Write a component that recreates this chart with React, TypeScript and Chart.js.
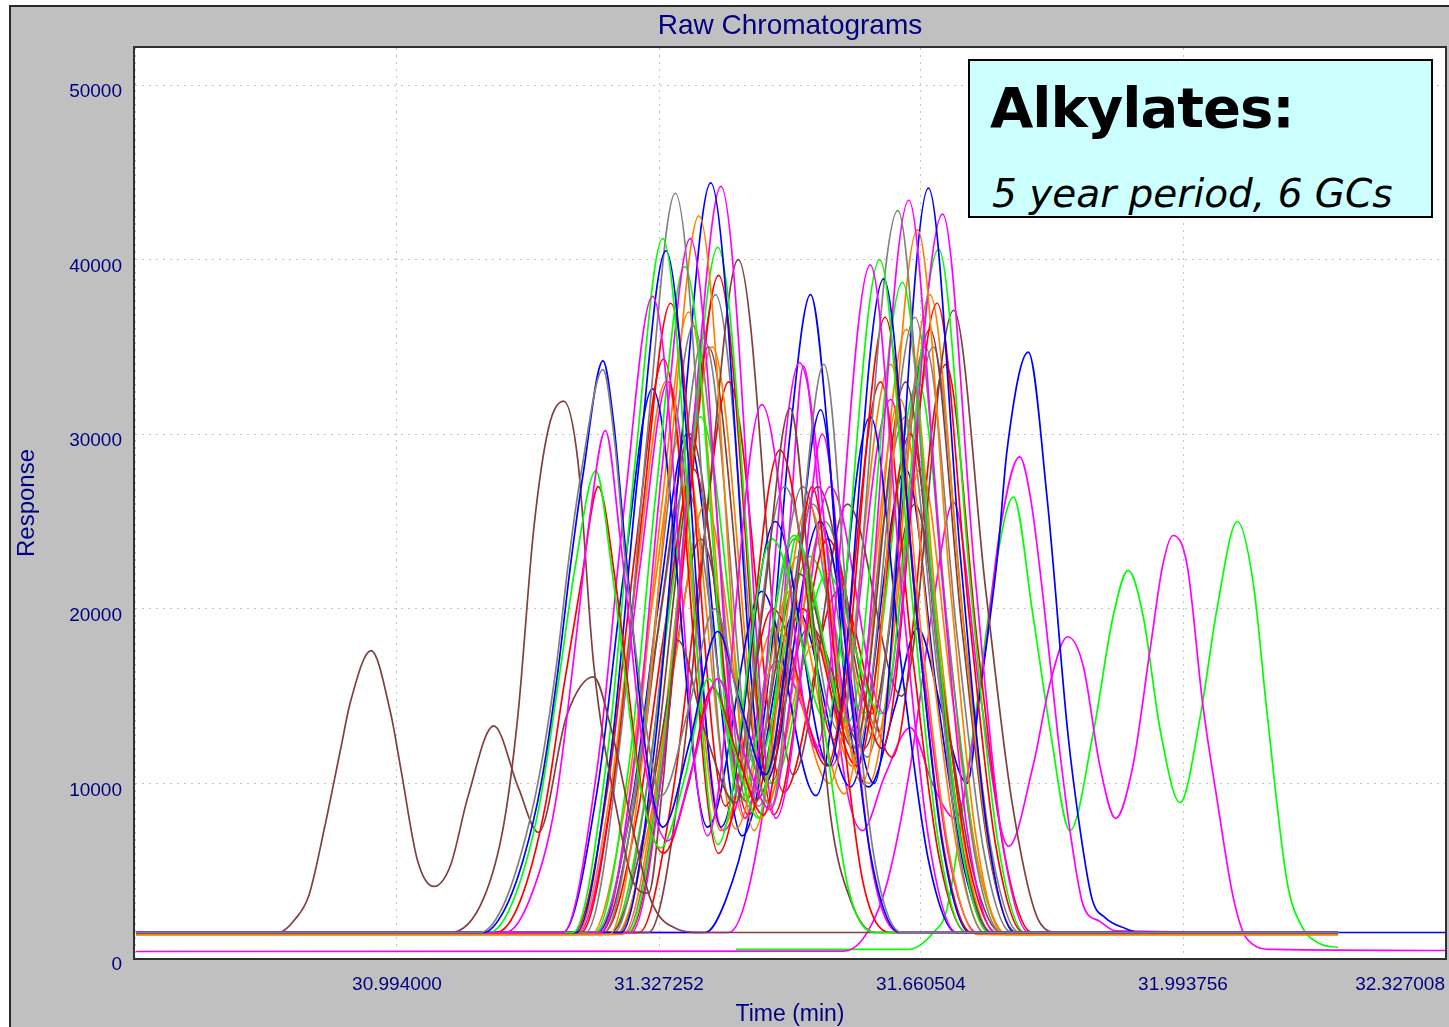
import React, { useEffect, useRef } from "react";
import { Chart, registerables } from "chart.js";

Chart.register(...registerables);

type P = [number, number];

// ---- axes ----
const X_MIN = 30.660748;
const X_MAX = 32.327008;
const Y_MIN = 0;
const Y_MAX = 52120;
const xTickValues = [30.660748, 30.994, 31.327252, 31.660504, 31.993756, 32.327008];
const xTickLabels = ["", "30.994000", "31.327252", "31.660504", "31.993756", "32.327008"];
const yTickValues = [0, 10000, 20000, 30000, 40000, 50000];
const yTickLabels = ["0", "10000", "20000", "30000", "40000", "50000"];

const TITLE = "Raw Chromatograms";
const X_TITLE = "Time (min)";
const Y_TITLE = "Response";
const NOTE_1 = "Alkylates:";
const NOTE_2 = "5 year period, 6 GCs";

// ---- colours ----
const BLUE = "#0000ff";
const MAGENTA = "#ff00ff";
const GREEN = "#00ff00";
const RED = "#ff0000";
const ORANGE = "#ff8000";
const GRAY = "#808080";
const BROWN = "#804040";
const NAVY = "#000080";

// ---- chromatograms: [time (min), response] ----
const brownA: P[] = [[30.662,1460],[30.844,1460],[30.864,2200],[30.882,3600],[30.902,7500],[30.922,11900],[30.935,14700],[30.961,17600],[30.986,14000],[30.999,10800],[31.020,5600],[31.041,4100],[31.062,5300],[31.084,9200],[31.117,13300],[31.148,9800],[31.174,7200],[31.210,13900],[31.244,16100],[31.266,13200],[31.295,7200],[31.317,3300],[31.351,1650],[31.380,1460],[32.191,1460]];
const brownB: P[] = [[30.662,1460],[31.062,1460],[31.104,3400],[31.130,7700],[31.148,14000],[31.168,24600],[31.187,30400],[31.206,31900],[31.224,28500],[31.244,16900],[31.275,8100],[31.295,4300],[31.314,3700],[31.332,9900],[31.351,18200],[31.386,12900],[31.425,8900],[31.459,19900],[31.494,31500],[31.522,19900],[31.545,8300],[31.571,3300],[31.602,1460],[32.191,1460]];
const blueE1: P[] = [[30.662,1460],[31.104,1460],[31.130,2700],[31.155,5700],[31.177,9900],[31.198,16200],[31.215,22600],[31.231,27800],[31.256,34200],[31.270,30500],[31.282,24700],[31.310,12000],[31.332,7500],[31.367,12500],[31.402,18700],[31.431,14500],[31.463,10500],[31.497,20000],[31.533,31400],[31.564,18000],[31.596,6000],[31.634,1460],[32.191,1460]];
const grayE2: P[] = [[30.662,1460],[31.100,1460],[31.127,2800],[31.152,6000],[31.174,10200],[31.196,16500],[31.213,23000],[31.229,28000],[31.256,33700],[31.271,29500],[31.284,23000],[31.310,13500],[31.330,9300],[31.366,14500],[31.398,20000],[31.432,14000],[31.470,8700],[31.503,22000],[31.537,34000],[31.569,19000],[31.600,6000],[31.636,1460],[32.191,1460]];
const magentaE3: P[] = [[30.662,1460],[31.132,1460],[31.164,3500],[31.196,9000],[31.221,18000],[31.240,25500],[31.259,30200],[31.278,24000],[31.310,11000],[31.338,6700],[31.370,11000],[31.402,16000],[31.433,12000],[31.469,8500],[31.503,18000],[31.535,30000],[31.568,17000],[31.599,5000],[31.634,1460],[32.191,1460]];
const greenE4: P[] = [[30.662,1460],[31.111,1460],[31.141,3200],[31.174,8500],[31.200,16000],[31.221,22500],[31.247,27900],[31.268,22000],[31.301,10500],[31.329,6300],[31.361,10500],[31.390,16000],[31.422,12000],[31.454,8000],[31.475,15000],[31.503,24200],[31.535,14000],[31.568,4000],[31.603,1460],[32.191,1460]];
const redE5: P[] = [[30.662,1460],[31.120,1460],[31.151,3300],[31.183,8800],[31.206,15500],[31.228,21500],[31.250,27000],[31.272,21500],[31.304,10000],[31.333,6000],[31.365,10000],[31.395,15500],[31.428,11500],[31.460,8200],[31.492,17000],[31.522,27000],[31.556,15000],[31.586,4500],[31.621,1460],[32.191,1460]];

const magenta1: P[] = [[30.662,1460],[31.205,1460],[31.249,11000],[31.283,25800],[31.319,37900],[31.389,7000],[31.458,31700],[31.527,12000],[31.596,39700],[31.637,20600],[31.670,6900],[31.706,1460],[32.191,1460]];
const green2: P[] = [[30.662,1460],[31.218,1460],[31.262,11800],[31.296,28000],[31.332,41200],[31.402,6500],[31.471,24000],[31.540,13600],[31.608,40000],[31.649,20700],[31.682,6900],[31.718,1460],[32.191,1460]];
const blue3: P[] = [[30.662,1460],[31.222,1460],[31.266,11700],[31.300,27500],[31.336,40500],[31.406,7500],[31.475,25000],[31.544,11000],[31.613,38900],[31.654,20200],[31.687,6700],[31.723,1460],[32.191,1460]];
const gray4: P[] = [[30.662,1460],[31.234,1460],[31.278,12500],[31.312,29800],[31.348,43800],[31.418,9000],[31.487,27000],[31.556,13000],[31.631,42800],[31.672,22100],[31.705,7300],[31.741,1460],[32.191,1460]];
const red5: P[] = [[30.662,1460],[31.228,1460],[31.272,10900],[31.306,25500],[31.342,37500],[31.412,8700],[31.481,29100],[31.550,12500],[31.615,36700],[31.656,19100],[31.689,6400],[31.725,1460],[32.191,1460]];
const magenta6: P[] = [[30.662,1460],[31.253,1460],[31.297,11800],[31.331,28000],[31.367,41200],[31.437,8000],[31.506,34100],[31.575,13000],[31.645,43400],[31.686,22400],[31.719,7400],[31.755,1460],[32.191,1460]];
const green7: P[] = [[30.662,1460],[31.246,1460],[31.290,11400],[31.324,26900],[31.360,39600],[31.430,9000],[31.499,24200],[31.568,13500],[31.637,38700],[31.678,20100],[31.711,6700],[31.747,1460],[32.191,1460]];
const orange8: P[] = [[30.662,1350],[31.264,1350],[31.308,12100],[31.342,28900],[31.378,42500],[31.448,7300],[31.517,26000],[31.586,10000],[31.656,41700],[31.697,21600],[31.730,7100],[31.766,1350],[32.191,1350]];
const blue9: P[] = [[30.662,1460],[31.279,1460],[31.323,12600],[31.357,30200],[31.393,44400],[31.463,10100],[31.532,25000],[31.601,10000],[31.670,44100],[31.711,22800],[31.744,7500],[31.780,1460],[32.191,1460]];
const magenta10: P[] = [[30.662,1460],[31.292,1460],[31.336,12600],[31.370,30100],[31.406,44200],[31.476,8000],[31.545,27000],[31.614,14000],[31.688,42600],[31.729,22000],[31.762,7300],[31.798,1460],[32.191,1460]];
const green11: P[] = [[30.662,1460],[31.288,1460],[31.332,11700],[31.366,27700],[31.402,40700],[31.472,10000],[31.541,22000],[31.610,14000],[31.683,40600],[31.724,21000],[31.757,7000],[31.793,1460],[32.191,1460]];
const red12: P[] = [[30.662,1460],[31.289,1460],[31.333,11300],[31.367,26600],[31.403,39100],[31.473,8200],[31.542,24000],[31.611,12000],[31.681,37500],[31.722,19500],[31.755,6600],[31.791,1460],[32.191,1460]];
const brown13: P[] = [[30.662,1460],[31.314,1460],[31.358,11500],[31.392,27200],[31.428,40000],[31.498,10500],[31.567,26000],[31.636,15000],[31.702,37100],[31.743,21000],[31.776,9000],[31.812,2000],[31.835,1460],[32.191,1460]];
const gray14: P[] = [[30.662,1460],[31.257,1460],[31.301,10600],[31.335,24600],[31.371,36200],[31.441,8700],[31.510,27000],[31.579,12000],[31.653,36700],[31.694,19100],[31.727,6400],[31.763,1460],[32.191,1460]];
const gray15: P[] = [[30.662,1460],[31.270,1460],[31.314,10400],[31.348,24100],[31.384,35500],[31.454,8700],[31.523,26000],[31.592,11500],[31.666,35000],[31.707,18200],[31.740,6200],[31.776,1460],[32.191,1460]];
const blue16: P[] = [[30.662,1460],[31.205,1460],[31.249,9700],[31.283,22200],[31.319,32600],[31.389,7500],[31.458,21000],[31.527,9300],[31.596,31000],[31.637,16200],[31.670,5600],[31.706,1460],[32.191,1460]];
const red17: P[] = [[30.662,1460],[31.219,1460],[31.263,10100],[31.297,23300],[31.333,34300],[31.403,6000],[31.472,20000],[31.541,11000],[31.609,33000],[31.650,17200],[31.683,5900],[31.719,1460],[32.191,1460]];
const orange18: P[] = [[30.662,1350],[31.222,1350],[31.266,9700],[31.300,22400],[31.336,33000],[31.406,7300],[31.475,19000],[31.544,10000],[31.622,34000],[31.663,17700],[31.696,6100],[31.732,1350],[32.191,1350]];
const orange19: P[] = [[30.662,1350],[31.241,1350],[31.285,8950],[31.319,20400],[31.355,30000],[31.425,7400],[31.494,21000],[31.563,9400],[31.634,32000],[31.675,16700],[31.708,5800],[31.744,1350],[32.191,1350]];
const brown20: P[] = [[30.662,1460],[31.253,1460],[31.297,9000],[31.331,20400],[31.367,30000],[31.437,9000],[31.506,22000],[31.575,12000],[31.641,33000],[31.682,17200],[31.715,5900],[31.751,1460],[32.191,1460]];
const red21: P[] = [[30.662,1460],[31.257,1460],[31.301,8500],[31.335,19000],[31.371,28000],[31.441,8200],[31.510,20000],[31.579,11000],[31.647,30000],[31.688,15700],[31.721,5500],[31.757,1460],[32.191,1460]];
const orange22: P[] = [[30.662,1350],[31.272,1350],[31.316,7950],[31.350,17700],[31.386,26000],[31.456,8000],[31.525,18000],[31.594,10000],[31.660,28000],[31.701,14700],[31.734,5200],[31.770,1350],[32.191,1350]];
const brown23: P[] = [[30.662,1460],[31.266,1460],[31.310,7500],[31.344,16300],[31.380,24000],[31.450,9000],[31.519,19000],[31.588,12000],[31.653,26000],[31.694,13700],[31.727,4900],[31.763,1460],[32.191,1460]];
const gray24: P[] = [[30.662,1460],[31.247,1460],[31.291,8300],[31.325,18400],[31.361,27000],[31.431,10300],[31.500,24000],[31.569,13000],[31.641,31000],[31.682,16200],[31.715,5600],[31.751,1460],[32.191,1460]];
const orange25: P[] = [[30.662,1350],[31.281,1350],[31.325,10200],[31.359,23800],[31.395,35000],[31.465,9000],[31.534,24000],[31.603,12500],[31.672,38000],[31.713,19700],[31.746,6600],[31.782,1350],[32.191,1350]];
const red26: P[] = [[30.662,1460],[31.302,1460],[31.346,9800],[31.380,22400],[31.416,33000],[31.486,9500],[31.555,21000],[31.624,11500],[31.692,34000],[31.733,17700],[31.766,6100],[31.802,1460],[32.191,1460]];
const green27: P[] = [[30.662,1460],[31.266,1460],[31.310,9300],[31.344,21100],[31.380,31000],[31.450,11000],[31.519,23000],[31.588,14000],[31.657,33000],[31.698,17200],[31.731,5900],[31.767,1460],[32.191,1460]];
const blue28: P[] = [[30.662,1460],[31.249,1460],[31.293,9000],[31.327,20400],[31.363,30000],[31.433,7000],[31.502,20000],[31.571,9800],[31.641,28000],[31.682,14700],[31.715,5200],[31.751,1460],[32.191,1460]];
const magenta29: P[] = [[30.662,1460],[31.225,1460],[31.269,9800],[31.303,22400],[31.339,33000],[31.409,7300],[31.478,17000],[31.547,11000],[31.622,32000],[31.663,16700],[31.696,5800],[31.732,1460],[32.191,1460]];
const brown30: P[] = [[30.662,1460],[31.276,1460],[31.320,10300],[31.354,23800],[31.390,35000],[31.460,10500],[31.529,27000],[31.598,14000],[31.672,36000],[31.713,18700],[31.746,6300],[31.782,1460],[32.191,1460]];
const gray31: P[] = [[30.662,1460],[31.285,1460],[31.329,11000],[31.363,25800],[31.399,38000],[31.469,10000],[31.538,25000],[31.607,13000],[31.676,35000],[31.717,18200],[31.750,6200],[31.786,1460],[32.191,1460]];
const orange32: P[] = [[30.662,1350],[31.251,1350],[31.295,10700],[31.329,25200],[31.365,37000],[31.435,8000],[31.504,23000],[31.573,11000],[31.642,36000],[31.683,18700],[31.716,6300],[31.752,1350],[32.191,1350]];

const blueLate: P[] = [[30.662,1460],[31.386,1460],[31.412,3300],[31.441,8000],[31.469,17000],[31.494,30000],[31.520,38000],[31.542,30000],[31.565,15000],[31.594,9800],[31.628,14500],[31.656,18900],[31.688,14000],[31.719,10000],[31.736,15400],[31.758,23100],[31.770,29100],[31.797,34700],[31.821,26300],[31.847,13000],[31.863,7300],[31.878,3400],[31.895,2300],[31.920,1700],[31.939,1460],[32.327,1460]];
const magentaLate: P[] = [[30.662,1460],[31.416,1460],[31.444,4500],[31.475,14000],[31.494,25000],[31.511,33900],[31.533,25000],[31.558,12000],[31.586,7300],[31.615,10500],[31.647,13200],[31.675,10000],[31.704,8000],[31.736,15400],[31.761,24500],[31.786,28700],[31.800,26300],[31.816,20600],[31.834,13000],[31.850,7300],[31.867,3000],[31.888,2100],[31.908,1550],[32.191,1460]];
const magentaLow: P[] = [[30.662,372],[31.562,390],[31.592,1450],[31.618,4400],[31.647,11000],[31.675,20000],[31.702,26100],[31.736,15000],[31.772,6400],[31.803,11000],[31.825,15800],[31.847,18400],[31.867,16700],[31.888,11000],[31.908,8000],[31.930,11000],[31.952,17700],[31.968,22500],[31.981,24200],[31.999,22500],[32.019,14500],[32.037,9100],[32.058,3400],[32.075,1100],[32.108,490],[32.327,430]];
const greenLow: P[] = [[31.425,490],[31.643,490],[31.676,1450],[31.694,2900],[31.727,13000],[31.758,23100],[31.778,26400],[31.803,19600],[31.825,13000],[31.850,7300],[31.880,13000],[31.905,19600],[31.924,22200],[31.943,19600],[31.965,13000],[31.990,8900],[32.016,13900],[32.037,20000],[32.063,25000],[32.083,21500],[32.101,13900],[32.126,4400],[32.145,1800],[32.168,820],[32.191,600]];

const traces: { name: string; color: string; points: P[] }[] = [
  { name: "gray E2", color: GRAY, points: grayE2 },
  { name: "blue E1", color: BLUE, points: blueE1 },
  { name: "magenta E3", color: MAGENTA, points: magentaE3 },
  { name: "green E4", color: GREEN, points: greenE4 },
  { name: "red E5", color: RED, points: redE5 },
  { name: "brown A", color: BROWN, points: brownA },
  { name: "brown B", color: BROWN, points: brownB },
  { name: "magenta 1", color: MAGENTA, points: magenta1 },
  { name: "green 2", color: GREEN, points: green2 },
  { name: "blue 3", color: BLUE, points: blue3 },
  { name: "gray 4", color: GRAY, points: gray4 },
  { name: "red 5", color: RED, points: red5 },
  { name: "magenta 6", color: MAGENTA, points: magenta6 },
  { name: "green 7", color: GREEN, points: green7 },
  { name: "orange 8", color: ORANGE, points: orange8 },
  { name: "blue 9", color: BLUE, points: blue9 },
  { name: "magenta 10", color: MAGENTA, points: magenta10 },
  { name: "green 11", color: GREEN, points: green11 },
  { name: "red 12", color: RED, points: red12 },
  { name: "brown 13", color: BROWN, points: brown13 },
  { name: "gray 14", color: GRAY, points: gray14 },
  { name: "gray 15", color: GRAY, points: gray15 },
  { name: "blue 16", color: BLUE, points: blue16 },
  { name: "red 17", color: RED, points: red17 },
  { name: "orange 18", color: ORANGE, points: orange18 },
  { name: "orange 19", color: ORANGE, points: orange19 },
  { name: "brown 20", color: BROWN, points: brown20 },
  { name: "red 21", color: RED, points: red21 },
  { name: "orange 22", color: ORANGE, points: orange22 },
  { name: "brown 23", color: BROWN, points: brown23 },
  { name: "gray 24", color: GRAY, points: gray24 },
  { name: "orange 25", color: ORANGE, points: orange25 },
  { name: "red 26", color: RED, points: red26 },
  { name: "green 27", color: GREEN, points: green27 },
  { name: "blue 28", color: BLUE, points: blue28 },
  { name: "magenta 29", color: MAGENTA, points: magenta29 },
  { name: "brown 30", color: BROWN, points: brown30 },
  { name: "gray 31", color: GRAY, points: gray31 },
  { name: "orange 32", color: ORANGE, points: orange32 },
  { name: "blue late", color: BLUE, points: blueLate },
  { name: "magenta late", color: MAGENTA, points: magentaLate },
  { name: "magenta low", color: MAGENTA, points: magentaLow },
  { name: "green low", color: GREEN, points: greenLow },
];

const framePlugin = {
  id: "frame",
  beforeDraw(chart: any) {
    const { ctx, chartArea: a } = chart;
    ctx.save();
    ctx.fillStyle = "#ffffff";
    ctx.fillRect(a.left, a.top, a.right - a.left, a.bottom - a.top);
    ctx.restore();
  },
  afterDraw(chart: any) {
    const { ctx, chartArea: a } = chart;
    ctx.save();
    ctx.strokeStyle = "#303030";
    ctx.lineWidth = 2;
    ctx.strokeRect(a.left - 1, a.top - 1, a.right - a.left + 2, a.bottom - a.top + 2);
    ctx.restore();
  },
};

const TICK_FONT = { family: "'Liberation Sans', Arial, sans-serif", size: 19 };
const GRID_COLOR = "#c4c4c4";

export default function App() {
  const ref = useRef<HTMLCanvasElement | null>(null);

  useEffect(() => {
    if (!ref.current) return;
    const chart = new Chart(ref.current, {
      type: "line",
      data: {
        datasets: traces.map((t) => ({
          label: t.name,
          data: t.points.map(([x, y]) => ({ x, y })),
          borderColor: t.color,
          backgroundColor: t.color,
          borderWidth: 1.7,
          pointRadius: 0,
          fill: false,
          cubicInterpolationMode: "monotone" as const,
        })),
      },
      options: {
        responsive: false,
        animation: false,
        events: [],
        layout: { padding: { left: 0, right: 4, top: 48, bottom: 0 } },
        plugins: {
          legend: { display: false },
          tooltip: { enabled: false },
          title: { display: false },
        },
        scales: {
          x: {
            type: "linear",
            min: X_MIN,
            max: X_MAX,
            afterBuildTicks: (s: any) => {
              s.ticks = xTickValues.map((v) => ({ value: v }));
            },
            afterFit: (s: any) => {
              s.height = 69;
              s.paddingLeft = 0;
              s.paddingRight = 0;
            },
            ticks: {
              autoSkip: false,
              maxRotation: 0,
              minRotation: 0,
              align: "inner",
              padding: 15,
              color: NAVY,
              font: TICK_FONT,
              callback: (v: any) => {
                const i = xTickValues.findIndex((t) => Math.abs(t - Number(v)) < 1e-6);
                return i >= 0 ? xTickLabels[i] : "";
              },
            },
            grid: { color: GRID_COLOR, lineWidth: 1, drawTicks: false },
            border: { display: false, dash: [2, 5] },
          },
          y: {
            type: "linear",
            min: Y_MIN,
            max: Y_MAX,
            afterBuildTicks: (s: any) => {
              s.ticks = yTickValues.map((v) => ({ value: v }));
            },
            afterFit: (s: any) => {
              s.width = 135;
              s.paddingTop = 0;
              s.paddingBottom = 0;
            },
            ticks: {
              autoSkip: false,
              padding: 13,
              labelOffset: 7,
              color: NAVY,
              font: TICK_FONT,
              callback: (v: any) => {
                const i = yTickValues.indexOf(Number(v));
                return i >= 0 ? yTickLabels[i] : "";
              },
            },
            grid: { color: GRID_COLOR, lineWidth: 1, drawTicks: false },
            border: { display: false, dash: [2, 5] },
          },
        },
      } as any,
      plugins: [framePlugin],
    });
    return () => chart.destroy();
  }, []);

  const fixed = { position: "fixed" as const };

  return (
    <div>
      <div
        style={{
          ...fixed,
          left: 9,
          top: 5,
          width: 1470,
          height: 1050,
          background: "#c0c0c0",
          borderLeft: "2px solid #2a2a2a",
          borderTop: "2px solid #2a2a2a",
        }}
      />
      <canvas
        ref={ref}
        width={1449}
        height={1027}
        style={{ ...fixed, left: 0, top: 0, width: 1449, height: 1027 }}
      />
      <div
        style={{
          ...fixed,
          left: 135,
          width: 1310,
          top: 11,
          textAlign: "center",
          fontFamily: "'Liberation Sans', Arial, sans-serif",
          fontSize: 28,
          lineHeight: "28px",
          color: NAVY,
          whiteSpace: "nowrap",
        }}
      >
        {TITLE}
      </div>
      <div
        style={{
          ...fixed,
          left: 135,
          width: 1310,
          top: 1002,
          textAlign: "center",
          fontFamily: "'Liberation Sans', Arial, sans-serif",
          fontSize: 23,
          lineHeight: "23px",
          color: NAVY,
          whiteSpace: "nowrap",
        }}
      >
        {X_TITLE}
      </div>
      <div
        style={{
          ...fixed,
          left: 26 - 100,
          top: 503 - 12,
          width: 200,
          height: 24,
          textAlign: "center",
          fontFamily: "'Liberation Sans', Arial, sans-serif",
          fontSize: 24,
          lineHeight: "24px",
          color: NAVY,
          transform: "rotate(-90deg)",
          whiteSpace: "nowrap",
        }}
      >
        {Y_TITLE}
      </div>
      <div
        style={{
          ...fixed,
          left: 968,
          top: 59,
          width: 465,
          height: 159,
          boxSizing: "border-box",
          border: "2px solid #000000",
          background: "#ccffff",
        }}
      >
        <div
          style={{
            position: "absolute",
            left: 20,
            top: 19,
            fontFamily: "'DejaVu Sans', sans-serif",
            fontWeight: "bold",
            fontSize: 56,
            lineHeight: "56px",
            letterSpacing: "-1px",
            color: "#000000",
            whiteSpace: "nowrap",
          }}
        >
          {NOTE_1}
        </div>
        <div
          style={{
            position: "absolute",
            left: 22,
            top: 113,
            fontFamily: "'DejaVu Sans', sans-serif",
            fontStyle: "italic",
            fontSize: 39,
            lineHeight: "39px",
            color: "#000000",
            whiteSpace: "nowrap",
          }}
        >
          {NOTE_2}
        </div>
      </div>
    </div>
  );
}
